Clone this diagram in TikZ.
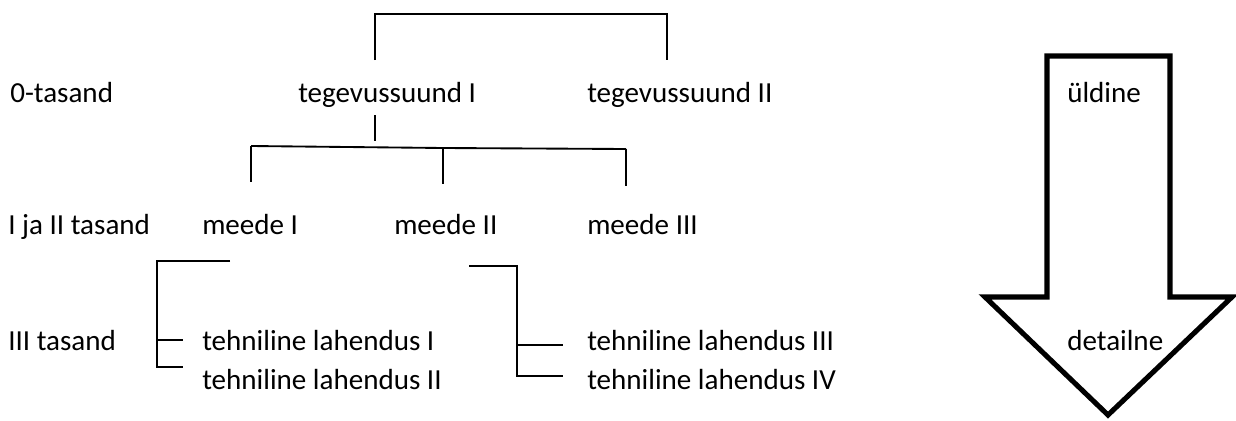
\documentclass[tikz,border=0pt]{standalone}
\usepackage{fontspec}
\setmainfont{Carlito}
\begin{document}
\begin{tikzpicture}[x=0.75pt,y=-0.75pt,
  lbl/.style={anchor=base west,inner sep=0pt,font=\fontsize{21.8}{26}\selectfont},
  tree/.style={line width=1.4pt},
  bigarrow/.style={line width=3.8pt,line join=miter}]
\useasboundingbox (0,0) rectangle (1236,421);

% level labels
\node[lbl] (l0) at (10,102) {0-tasand};
\node[lbl] (l12) at (8,234) {I ja II tasand};
\node[lbl] (l3) at (8,350) {III tasand};

% level 0
\node[lbl] (t1) at (298,102) {tegevussuund I};
\node[lbl] (t2) at (587,102) {tegevussuund II};

% level I and II
\node[lbl] (m1) at (202,234) {meede I};
\node[lbl] (m2) at (394,234) {meede II};
\node[lbl] (m3) at (587,234) {meede III};

% level III
\node[lbl] (s1) at (202,350) {tehniline lahendus I};
\node[lbl] (s2) at (202,389) {tehniline lahendus II};
\node[lbl] (s3) at (587,350) {tehniline lahendus III};
\node[lbl] (s4) at (587,389) {tehniline lahendus IV};

% connector points
\coordinate (a1) at (375,60);  \coordinate (a2) at (375,14);
\coordinate (a3) at (667,14);  \coordinate (a4) at (667,60);
\coordinate (b1) at (375,115); \coordinate (b2) at (375,141);
\coordinate (c1) at (251,146); \coordinate (c2) at (443,148); \coordinate (c3) at (626,149);
\coordinate (d1) at (251,182); \coordinate (d2) at (443,184); \coordinate (d3) at (626,186);
\coordinate (e1) at (230,261); \coordinate (e2) at (157,261);
\coordinate (e3) at (157,367); \coordinate (e4) at (183,367);
\coordinate (e5) at (157,340); \coordinate (e6) at (183,340);
\coordinate (f1) at (469,266); \coordinate (f2) at (517,266);
\coordinate (f3) at (517,376); \coordinate (f4) at (563,376);
\coordinate (f5) at (517,345); \coordinate (f6) at (563,345);

% tree lines
\draw[tree] (a1) -- (a2) -- (a3) -- (a4);
\draw[tree] (b1) -- (b2);
\draw[tree] (c1) -- (c2) -- (c3);
\draw[tree] (c1) -- (d1);
\draw[tree] (c2) -- (d2);
\draw[tree] (c3) -- (d3);
\draw[tree] (e1) -- (e2) -- (e3) -- (e4);
\draw[tree] (e5) -- (e6);
\draw[tree] (f1) -- (f2) -- (f3) -- (f4);
\draw[tree] (f5) -- (f6);

% general-to-detailed arrow
\draw[bigarrow] (1047,56) -- (1170,56) -- (1170,297) -- (1232,297)
  -- (1108,415) -- (985,297) -- (1047,297) -- cycle;
\node[lbl] (g1) at (1067,102) {üldine};
\node[lbl] (g2) at (1067,350) {detailne};
\end{tikzpicture}
\end{document}
